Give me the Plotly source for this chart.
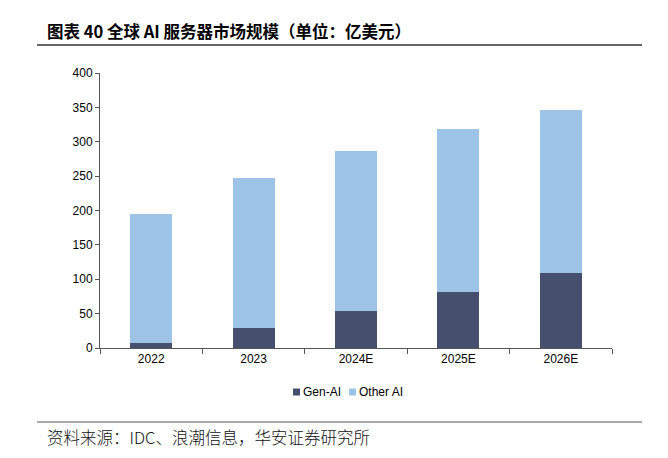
import plotly.graph_objects as go

categories = ["2022", "2023", "2024E", "2025E", "2026E"]
gen_ai = [7.7, 28.6, 54.0, 81.2, 108.9]
other_ai = [186.9, 218.4, 232.6, 236.8, 238.0]
series_names = ["Gen-AI", "Other AI"]

title_text = "图表 40 全球 AI 服务器市场规模（单位：亿美元）"
source_text = "资料来源：IDC、浪潮信息，华安证券研究所"

dark = "#474F6E"
light = "#9DC3E6"

fig = go.Figure()
fig.add_trace(go.Bar(x=categories, y=gen_ai, name=series_names[0], marker_color=dark,
                     marker_line_width=0, width=0.41))
fig.add_trace(go.Bar(x=categories, y=other_ai, name=series_names[1], marker_color=light,
                     marker_line_width=0, width=0.41))

L, R, T, B = 100, 612, 73, 348
W, H = 668, 458

def px(x):
    return (x - L) / (R - L)

def py(y):
    return (B - y) / (B - T)

fig.update_layout(
    width=W, height=H,
    barmode="stack",
    margin=dict(l=L, r=W - R, t=T, b=H - B),
    plot_bgcolor="white", paper_bgcolor="white",
    font=dict(family="Liberation Sans, Arial, sans-serif", size=12, color="#000000"),
    showlegend=False,
    xaxis=dict(showline=True, linecolor="#555555", linewidth=1, ticks="outside",
               tickson="boundaries", ticklen=5, tickcolor="#555555", showgrid=False,
               tickfont=dict(size=12)),
    yaxis=dict(range=[0, 400], dtick=50, showline=True, linecolor="#555555", linewidth=1,
               ticks="outside", ticklen=4, tickcolor="#555555", showgrid=False,
               zeroline=False, tickfont=dict(size=12)),
)

# legend (manual, compact like the reference)
legend_items = [(series_names[0], dark, 293), (series_names[1], light, 349)]
for name, col, x0 in legend_items:
    fig.add_shape(type="rect", xref="paper", yref="paper", x0=px(x0), x1=px(x0 + 7),
                  y0=py(395.5), y1=py(388.5), fillcolor=col, line=dict(width=0))
    fig.add_annotation(text=name, xref="paper", yref="paper", x=px(x0 + 8), y=py(392),
                       xanchor="left", yanchor="middle", showarrow=False,
                       font=dict(size=12, color="#000000"))

fig.add_annotation(text="<b>" + title_text + "</b>", xref="paper", yref="paper",
                   x=px(45), y=py(31), xanchor="left", yanchor="middle", showarrow=False,
                   font=dict(family="Noto Sans CJK SC", size=16.5, color="#000000"))
fig.add_annotation(text=source_text, xref="paper", yref="paper",
                   x=px(45), y=py(437), xanchor="left", yanchor="middle", showarrow=False,
                   font=dict(family="Noto Sans CJK SC", size=16.5, weight=300, color="#111111"))

fig.add_shape(type="line", xref="paper", yref="paper", x0=px(37), x1=px(642),
              y0=py(45), y1=py(45), line=dict(color="#333333", width=1.5))
fig.add_shape(type="line", xref="paper", yref="paper", x0=px(37), x1=px(642),
              y0=py(422), y1=py(422), line=dict(color="#555555", width=1.2))

fig.write_html("out.html", config={"displayModeBar": False},
               post_script="document.body.style.margin='0';")
